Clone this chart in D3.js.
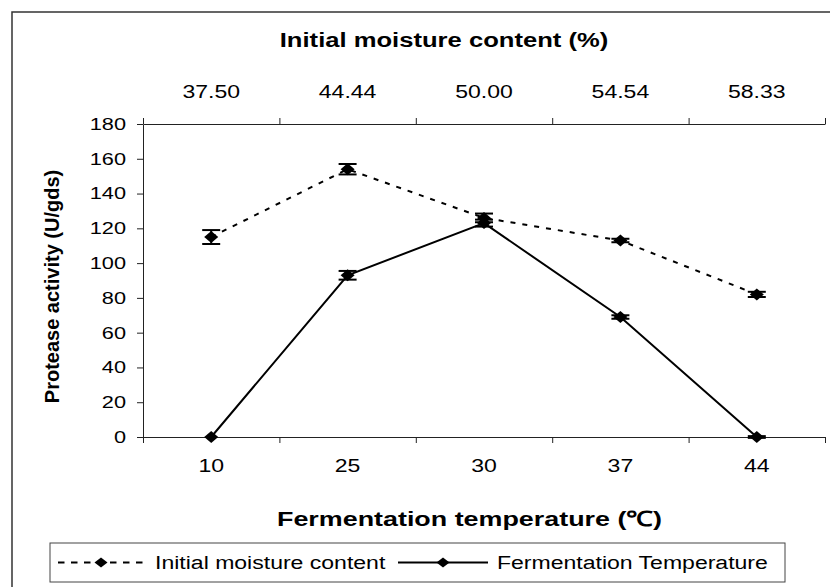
<!DOCTYPE html>
<html>
<head>
<meta charset="utf-8">
<script src="https://cdn.jsdelivr.net/npm/d3@7"></script>
<style>
  body { margin: 0; background: #fff; }
  svg { display: block; font-family: "Liberation Sans", Arial, sans-serif; }
</style>
</head>
<body>
<svg id="chart" width="830" height="587"></svg>
<script>
"use strict";

// Data
const temps = ["10", "25", "30", "37", "44"];
const moistureLabels = ["37.50", "44.44", "50.00", "54.54", "58.33"];
const moistureActivity = [115, 154, 126, 113, 82];
const moistureErr = [4, 3, 2.5, 1, 1.5];
const tempActivity = [0, 93, 123, 69, 0];
const tempErr = [0, 2.5, 2, 1, 0.5];
const yTicks = [0, 20, 40, 60, 80, 100, 120, 140, 160, 180];

// The source image has horizontally widened lettering
const SX = 1.28;
const plot = { left: 143, right: 825, top: 124, bottom: 437 };

const svg = d3.select("#chart");

// outer frame (right/bottom edges sit outside the picture)
svg.append("rect")
  .attr("x", 12).attr("y", 12)
  .attr("width", 830).attr("height", 590)
  .attr("fill", "none").attr("stroke", "#333").attr("stroke-width", 1.5);

const x = d3.scaleBand().domain(temps).range([plot.left, plot.right]);
const xTop = d3.scaleBand().domain(moistureLabels).range([plot.left, plot.right]);
const edges = d3.scaleLinear().domain([0, temps.length]).range([plot.left, plot.right]);
const y = d3.scaleLinear().domain([0, 180]).range([plot.bottom, plot.top]);
const cx = (i) => x(temps[i]) + x.bandwidth() / 2;

function styleAxis(g) {
  g.selectAll("path, line").attr("stroke", "#222").attr("stroke-width", 1);
}

// bottom axis: ticks between categories, labels at centers
svg.append("g")
  .attr("transform", `translate(0,${plot.bottom})`)
  .call(d3.axisBottom(edges).tickValues(d3.range(temps.length + 1)).tickSize(6).tickSizeOuter(0).tickFormat(""))
  .call(styleAxis);

svg.append("g")
  .attr("transform", `translate(0,${plot.bottom})`)
  .call(d3.axisBottom(x).tickSize(0))
  .call((g) => g.select(".domain").remove())
  .call((g) => g.selectAll("text")
    .attr("y", null).attr("dy", null)
    .attr("transform", `translate(0,35) scale(${SX},1)`)
    .attr("font-size", 18).attr("fill", "#000"));

// top axis (initial moisture content)
svg.append("g")
  .attr("transform", `translate(0,${plot.top})`)
  .call(d3.axisTop(edges).tickValues(d3.range(temps.length + 1)).tickSize(6).tickSizeOuter(0).tickFormat(""))
  .call(styleAxis);

svg.append("g")
  .attr("transform", `translate(0,${plot.top})`)
  .call(d3.axisTop(xTop).tickSize(0))
  .call((g) => g.select(".domain").remove())
  .call((g) => g.selectAll("text")
    .attr("y", null).attr("dy", null)
    .attr("transform", `translate(0,-26) scale(${SX},1)`)
    .attr("font-size", 18).attr("fill", "#000"));

// left axis
svg.append("g")
  .attr("transform", `translate(${plot.left},0)`)
  .call(d3.axisLeft(y).tickValues(yTicks).tickSize(6).tickSizeOuter(0))
  .call(styleAxis)
  .call((g) => g.selectAll("text")
    .attr("x", null)
    .attr("transform", `translate(-17,0) scale(${SX},1)`)
    .attr("font-size", 17).attr("fill", "#000"));

// axis titles
svg.append("text")
  .attr("transform", `translate(444,47) scale(${SX},1)`)
  .attr("text-anchor", "middle").attr("font-size", 20).attr("font-weight", "bold")
  .text("Initial moisture content (%)");

svg.append("text")
  .attr("transform", `translate(277,526) scale(${SX},1)`)
  .attr("text-anchor", "start").attr("font-size", 21).attr("font-weight", "bold")
  .text("Fermentation temperature (\u2103)");

svg.append("text")
  .attr("transform", `translate(59,${(plot.top + plot.bottom) / 2 + 6}) rotate(-90)`)
  .attr("text-anchor", "middle").attr("font-size", 20).attr("font-weight", "bold")
  .text("Protease activity (U/gds)");

// series
const line = d3.line().x((d, i) => cx(i)).y((d) => y(d));
const diamond = (w, h) => `M0,${-h}L${w},0L0,${h}L${-w},0Z`;

const series = [
  { values: moistureActivity, err: moistureErr, dash: "5,7" },
  { values: tempActivity, err: tempErr, dash: null },
];

series.forEach((s) => {
  svg.append("path")
    .datum(s.values)
    .attr("d", line)
    .attr("fill", "none").attr("stroke", "#000").attr("stroke-width", 2)
    .attr("stroke-dasharray", s.dash);

  const eb = svg.append("g").selectAll("g")
    .data(s.values.map((v, i) => ({ v, e: s.err[i], i })))
    .join("g")
    .attr("stroke", "#000").attr("stroke-width", 2);
  eb.append("line")
    .attr("x1", (d) => cx(d.i)).attr("x2", (d) => cx(d.i))
    .attr("y1", (d) => y(d.v - d.e)).attr("y2", (d) => y(d.v + d.e));
  [1, -1].forEach((sgn) => {
    eb.filter((d) => d.e > 0).append("line")
      .attr("x1", (d) => cx(d.i) - 9).attr("x2", (d) => cx(d.i) + 9)
      .attr("y1", (d) => y(d.v + sgn * d.e)).attr("y2", (d) => y(d.v + sgn * d.e));
  });

  svg.append("g").selectAll("path")
    .data(s.values)
    .join("path")
    .attr("d", diamond(7, 6))
    .attr("transform", (d, i) => `translate(${cx(i)},${y(d)})`)
    .attr("fill", "#000");
});

// legend
const legend = svg.append("g");
legend.append("rect")
  .attr("x", 50).attr("y", 543).attr("width", 735).attr("height", 39)
  .attr("fill", "#fff").attr("stroke", "#444").attr("stroke-width", 1);

const legendItems = [
  { label: "Initial moisture content", dash: "6.5,6.5", x0: 58, x1: 144, tx: 155 },
  { label: "Fermentation Temperature", dash: null, x0: 398, x1: 488, tx: 497 },
];
const ly = 562.5;
legendItems.forEach((it) => {
  legend.append("line")
    .attr("x1", it.x0).attr("x2", it.x1).attr("y1", ly).attr("y2", ly)
    .attr("stroke", "#000").attr("stroke-width", 2)
    .attr("stroke-dasharray", it.dash);
  legend.append("path")
    .attr("d", diamond(6.5, 5))
    .attr("transform", `translate(${(it.x0 + it.x1) / 2},${ly})`)
    .attr("fill", "#000");
  legend.append("text")
    .attr("transform", `translate(${it.tx},${ly + 6.5}) scale(${SX},1)`)
    .attr("font-size", 18)
    .text(it.label);
});
</script>
</body>
</html>
